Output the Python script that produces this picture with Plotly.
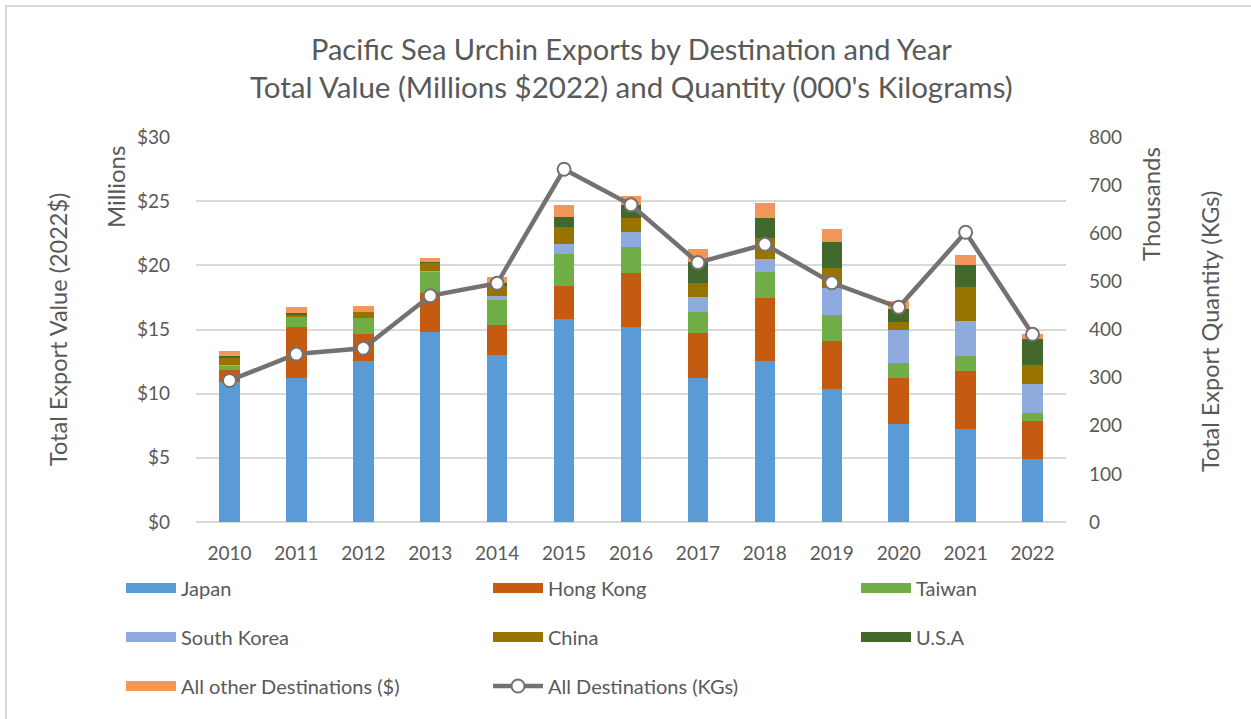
import plotly.graph_objects as go

years = ["2010", "2011", "2012", "2013", "2014", "2015", "2016",
         "2017", "2018", "2019", "2020", "2021", "2022"]
japan = [10.9, 11.24, 12.54, 14.82, 13.0, 15.81, 15.21, 11.24, 12.54, 10.33, 7.63, 7.24, 4.93]
hong_kong = [0.95, 3.97, 2.08, 3.0, 2.32, 2.59, 4.21, 3.5, 4.88, 3.79, 3.61, 4.5, 2.91]
taiwan = [0.35, 0.78, 1.29, 1.7, 1.97, 2.5, 2.0, 1.59, 2.08, 2.0, 1.17, 1.19, 0.67]
south_korea = [0.05, 0.05, 0.0, 0.05, 0.31, 0.78, 1.19, 1.19, 1.01, 2.08, 2.59, 2.7, 2.21]
china = [0.6, 0.15, 0.47, 0.65, 0.86, 1.32, 1.09, 1.09, 1.63, 1.61, 0.6, 2.7, 1.51]
usa = [0.05, 0.1, 0.02, 0.05, 0.13, 0.78, 0.99, 1.66, 1.56, 2.0, 0.99, 1.69, 2.0]
other = [0.45, 0.45, 0.44, 0.3, 0.51, 0.91, 0.7, 0.97, 1.12, 1.01, 0.65, 0.8, 0.41]
all_kgs = [294, 349, 361, 470, 496, 733, 659, 539, 577, 497, 446, 602, 390]

series = [
    ("Japan", japan, "#5B9BD5"),
    ("Hong Kong", hong_kong, "#C55A11"),
    ("Taiwan", taiwan, "#70AD47"),
    ("South Korea", south_korea, "#8FAADC"),
    ("China", china, "#997300"),
    ("U.S.A", usa, "#43682B"),
    ("All other Destinations ($)", other, "#F1975A"),
]

FONT = "Lato"
GREY = "#595959"

L, R, T, B = 196, 185, 137, 197
W, H = 1251, 719
pw, ph = W - L - R, H - T - B

def px(x):
    return (x - L) / pw

def py(y):
    return (H - B - y) / ph

# legend grid: 3 columns x 3 rows (pixel anchor of each entry)
col_x = [121, 488, 856]
row_y = [588, 637, 686]
legend_names = ["legend"] + ["legend%d" % i for i in range(2, 9)]

fig = go.Figure()
for name, vals, color in series:
    fig.add_trace(go.Bar(x=years, y=vals, name=name, marker=dict(color=color, line=dict(width=0)),
                         showlegend=False, yaxis="y"))
# legend swatches (wide rectangles like the reference)
for i, (name, vals, color) in enumerate(series):
    fig.add_trace(go.Scatter(x=[None], y=[None], mode="lines", name=name,
                             line=dict(color=color, width=10), legend=legend_names[i],
                             showlegend=True))

fig.add_trace(go.Scatter(x=years, y=all_kgs, name="All Destinations (KGs)", yaxis="y2",
                         mode="lines+markers", legend=legend_names[7],
                         line=dict(color="#767171", width=4.5),
                         marker=dict(symbol="circle", size=13, color="white",
                                     line=dict(color="#767171", width=2))))

legends = {}
for i, ln in enumerate(legend_names):
    r, c = divmod(i, 3)
    legends[ln] = dict(x=px(col_x[c]), y=py(row_y[r]), xanchor="left", yanchor="middle",
                       orientation="v", font=dict(family=FONT, size=20, color=GREY),
                       bgcolor="rgba(0,0,0,0)", itemwidth=50, borderwidth=0)

fig.update_layout(
    width=W, height=H,
    margin=dict(l=L, r=R, t=T, b=B, autoexpand=False),
    paper_bgcolor="white", plot_bgcolor="white",
    barmode="stack", bargap=0.694,
    font=dict(family=FONT, color=GREY),
    xaxis=dict(type="category", range=[-0.5, 12.5], showgrid=False, showline=False, ticks="",
               automargin=False,
               tickfont=dict(family=FONT, size=19, color=GREY), ticklabelstandoff=18),
    yaxis=dict(range=[0, 30], dtick=5, tickprefix="$", showgrid=True, gridcolor="#D9D9D9",
               gridwidth=1.5, zeroline=True, zerolinecolor="#D9D9D9", zerolinewidth=1.5,
               automargin=False,
               ticks="", tickfont=dict(family=FONT, size=19, color=GREY), ticklabelstandoff=25),
    yaxis2=dict(range=[0, 800], dtick=100, overlaying="y", side="right", showgrid=False,
                zeroline=False, ticks="", automargin=False,
                tickfont=dict(family=FONT, size=19, color=GREY), ticklabelstandoff=22),
    annotations=[
        dict(text="Pacific Sea Urchin Exports by Destination and Year", x=0.5, y=py(48),
             xref="paper", yref="paper", showarrow=False, xanchor="center", yanchor="middle",
             font=dict(family=FONT, size=29, color=GREY)),
        dict(text="Total Value (Millions $2022) and Quantity (000's Kilograms)", x=0.5, y=py(86),
             xref="paper", yref="paper", showarrow=False, xanchor="center", yanchor="middle",
             font=dict(family=FONT, size=29.5, color=GREY)),
        dict(text="Total Export Value (2022$)", x=px(58), y=py(330), textangle=-90,
             xref="paper", yref="paper", showarrow=False, xanchor="center", yanchor="middle",
             font=dict(family=FONT, size=23.5, color=GREY)),
        dict(text="Millions", x=px(115), y=py(187), textangle=-90,
             xref="paper", yref="paper", showarrow=False, xanchor="center", yanchor="middle",
             font=dict(family=FONT, size=24, color=GREY)),
        dict(text="Thousands", x=px(1150), y=py(204), textangle=-90,
             xref="paper", yref="paper", showarrow=False, xanchor="center", yanchor="middle",
             font=dict(family=FONT, size=24, color=GREY)),
        dict(text="Total Export Quantity (KGs)", x=px(1210), y=py(332), textangle=-90,
             xref="paper", yref="paper", showarrow=False, xanchor="center", yanchor="middle",
             font=dict(family=FONT, size=23.5, color=GREY)),
    ],
    shapes=[
        dict(type="rect", xref="paper", yref="paper", x0=px(6), x1=px(1270), y0=py(6), y1=py(740),
             line=dict(color="#D9D9D9", width=2), fillcolor="rgba(0,0,0,0)", layer="below"),
    ],
    **legends,
)

fig.write_html("out.html", config={"displayModeBar": False},
               post_script="document.body.style.margin='0';")
